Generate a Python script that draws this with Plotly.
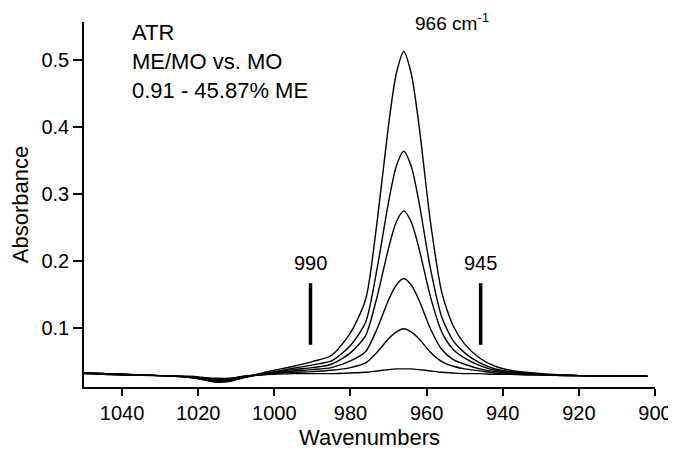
import plotly.graph_objects as go

# Wavenumbers (cm-1) at which the spectra were read
wavenumbers = [1050, 1040, 1030, 1022, 1018, 1015, 1012, 1008, 1004, 1000, 995, 990,
               985, 980, 976, 973, 970, 968, 966, 964, 962, 959, 956, 953, 950, 946,
               942, 938, 934, 928, 920, 910, 902]

# Absorbance spectra, highest to lowest ME concentration
spec_1 = [.033, .031, .029, .026, .022, .019, .020, .026, .032, .037, .043, .050,
          .059, .093, .143, .259, .403, .479, .513, .479, .403, .259, .153, .103, .076, .055,
          .043, .037, .034, .031, .029, .028, .028]
spec_2 = [.033, .031, .029, .026, .023, .020, .021, .026, .031, .035, .040, .045,
          .051, .074, .109, .189, .288, .341, .364, .341, .288, .189, .116, .081, .063, .048,
          .039, .035, .033, .030, .029, .028, .028]
spec_3 = [.033, .031, .029, .027, .023, .021, .022, .027, .031, .034, .038, .041,
          .046, .063, .089, .147, .219, .258, .275, .258, .219, .147, .094, .068, .055, .044,
          .037, .034, .032, .030, .029, .028, .028]
spec_4 = [.033, .031, .029, .027, .024, .022, .023, .027, .030, .033, .036, .038,
          .041, .051, .065, .099, .142, .164, .174, .164, .142, .099, .068, .053, .046, .039,
          .035, .033, .032, .030, .029, .028, .028]
spec_5 = [.032, .030, .029, .027, .025, .023, .024, .028, .030, .032, .034, .035,
          .037, .041, .048, .064, .084, .094, .099, .094, .084, .064, .050, .043, .039, .036,
          .033, .032, .031, .030, .029, .028, .028]
spec_6 = [.032, .030, .029, .028, .026, .025, .025, .028, .030, .031, .032, .032,
          .032, .033, .034, .036, .038, .039, .039, .039, .038, .036, .034, .033, .032, .032,
          .031, .031, .030, .030, .029, .028, .028]
spectra = [spec_1, spec_2, spec_3, spec_4, spec_5, spec_6]

# Marker bars (wavenumber, absorbance span) and labels
marker_positions = [990.5, 945.8]
marker_labels = ["990", "945"]
marker_span = [0.075, 0.167]
peak_label = "966 cm<sup>-1</sup>"
info_lines = ["ATR", "ME/MO vs. MO", "0.91 - 45.87% ME"]

x_ticks = [1040, 1020, 1000, 980, 960, 940, 920, 900]
y_ticks = [0.1, 0.2, 0.3, 0.4, 0.5]

FONT = "Arial, Liberation Sans, Helvetica, sans-serif"

fig = go.Figure()
for s in spectra:
    fig.add_trace(go.Scatter(x=wavenumbers, y=s, mode="lines",
                             line=dict(color="black", width=1.4, shape="spline", smoothing=0.7),
                             showlegend=False, hoverinfo="skip"))

for xm in marker_positions:
    fig.add_trace(go.Scatter(x=[xm, xm], y=marker_span, mode="lines",
                             line=dict(color="black", width=3.5),
                             showlegend=False, hoverinfo="skip"))

for xm, lab in zip(marker_positions, marker_labels):
    fig.add_annotation(x=xm, y=0.197, text=lab, showarrow=False,
                       xanchor="center", yanchor="middle",
                       font=dict(family=FONT, size=20, color="black"))

fig.add_annotation(x=963.6, y=0.557, text=peak_label, showarrow=False,
                   xanchor="left", yanchor="middle",
                   font=dict(family=FONT, size=19, color="black"))

for txt, yv in zip(info_lines, [0.542, 0.498, 0.4545]):
    fig.add_annotation(x=1037.9, y=yv, text=txt, showarrow=False,
                       xanchor="left", yanchor="middle",
                       font=dict(family=FONT, size=22, color="black"))

# page body has an 8px default margin, so the figure is sized to fit the window
fig.update_layout(
    width=668, height=442,
    margin=dict(l=76, r=21, t=14, b=63),
    paper_bgcolor="white", plot_bgcolor="white",
    font=dict(family=FONT, color="black"),
)
fig.update_xaxes(range=[1050, 900], tickvals=x_ticks, ticks="outside", ticklen=7,
                 tickwidth=1.5, tickcolor="black", showline=True, linecolor="black",
                 linewidth=1.5, showgrid=False, zeroline=False, automargin=False,
                 tickfont=dict(family=FONT, size=20, color="black"),
                 title=dict(text="Wavenumbers", font=dict(family=FONT, size=22, color="black"),
                            standoff=10))
fig.update_yaxes(range=[0.012, 0.557], tickvals=y_ticks, tickformat=".1f",
                 ticks="outside", ticklen=9, tickwidth=1.5, tickcolor="black",
                 showline=True, linecolor="black", linewidth=1.5, showgrid=False,
                 zeroline=False, automargin=False,
                 tickfont=dict(family=FONT, size=20, color="black"),
                 title=dict(text="Absorbance", font=dict(family=FONT, size=22, color="black"),
                            standoff=8))

fig.write_html("out.html")
